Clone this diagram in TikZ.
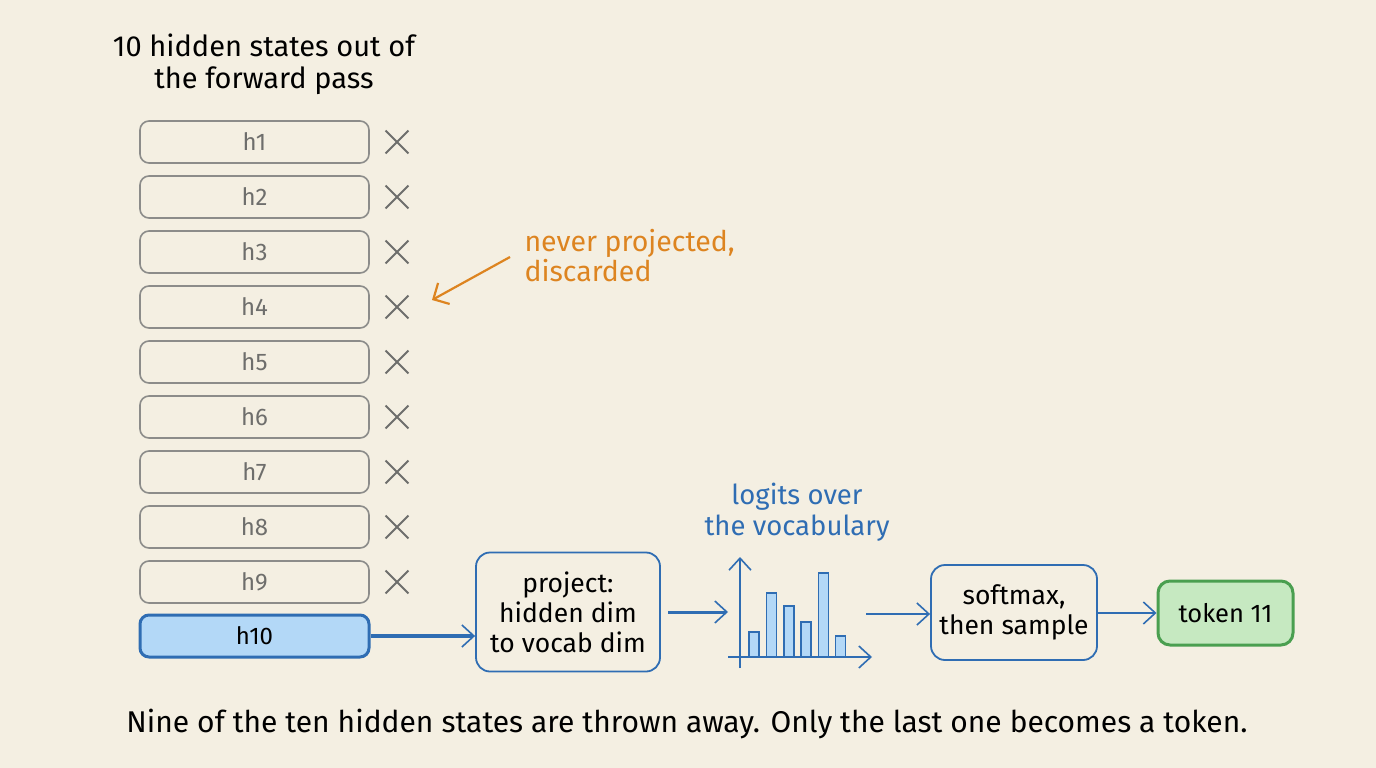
\documentclass[tikz,border=0pt]{standalone}
\usepackage{fontspec}
\setmainfont{Fira Sans}
\usetikzlibrary{shapes.misc,arrows.meta}

\definecolor{paper}{HTML}{F4EFE2}
\definecolor{boxgrey}{HTML}{8C8C8A}
\definecolor{labelgrey}{HTML}{6E6E6C}
\definecolor{hiblue}{HTML}{2F6DB3}
\definecolor{hifill}{HTML}{B3D8F7}
\definecolor{noteorange}{HTML}{DD8420}
\definecolor{tokgreen}{HTML}{4A9F50}
\definecolor{tokfill}{HTML}{C6E9C1}

\begin{document}
\begin{tikzpicture}[x=1pt,y=-1pt,
    hbox/.style={draw=boxgrey, line width=1.6pt, rounded corners=9pt,
        minimum width=229pt, minimum height=42pt, text=labelgrey,
        font=\fontsize{24}{26}\selectfont},
    xmark/.style={cross out, draw=labelgrey, line width=1.8pt,
        minimum size=21pt, inner sep=0pt},
    stepbox/.style={draw=hiblue, line width=1.8pt, rounded corners=14pt,
        align=center, font=\fontsize{26.5}{30}\selectfont},
    flow/.style={draw=hiblue, line width=1.6pt,
        -{Straight Barb[length=12pt,width=22pt,line width=1.6pt]}}]

\useasboundingbox [fill=paper] (0,0) rectangle (1376,768);

% Title
\node [align=center, font=\fontsize{29}{32}\selectfont] (title) at (264,64)
    {10 hidden states out of\\the forward pass};

% Hidden states h1 ... h9, thrown away
\foreach \i in {1,...,9} {
    \node [hbox] (h\i) at (254.5,{142+55*(\i-1)}) {h\i};
    \node [xmark] (x\i) at (397,{142+55*(\i-1)}) {};
}

% The last one is kept
\node [hbox, draw=hiblue, fill=hifill, line width=3pt, text=black] (h10)
    at (254.5,636) {h10};

% Note
\node [align=left, anchor=west, text=noteorange,
    font=\fontsize{28.5}{30}\selectfont] (note) at (521,256)
    {never projected,\\discarded};
\coordinate (notetip) at (432,300);
\draw [draw=noteorange, line width=2.2pt,
    -{Straight Barb[length=12pt,width=24pt,line width=2.2pt]}]
    (510,257) -- (notetip);

% Projection
\node [stepbox, minimum width=184pt, minimum height=119pt] (proj)
    at (568,612) {project:\\hidden dim\\to vocab dim};
\draw [flow, line width=3.5pt] (h10) -- (proj.west |- h10);

% Logits
\node [text=hiblue, align=center, font=\fontsize{27.5}{31}\selectfont]
    (logits) at (797,512) {logits over\\the vocabulary};
\coordinate (origin) at (740,657);
\draw [flow, line width=1.8pt] (740,668) -- (740,557) coordinate (ytop);
\draw [flow, line width=1.8pt] (728,657) -- (872,657) coordinate (xend);
\foreach \x/\h in {754/632, 771.5/593, 789/606, 806/622, 823.5/573, 840.5/636}
    \draw [draw=hiblue, fill=hifill, line width=1.4pt]
        (\x-5,657) rectangle (\x+5,\h);
\coordinate (chartin) at (728,612);
\coordinate (chartout) at (866,614);
\draw [flow, line width=3pt] (668,612) -- (chartin);

% Sampling
\node [stepbox, minimum width=166pt, minimum height=95pt] (soft)
    at (1014,612.5) {softmax,\\then sample};
\draw [flow] (chartout) -- (soft.west |- chartout);

% Output token
\node [draw=tokgreen, fill=tokfill, line width=3pt, rounded corners=12pt,
    minimum width=135pt, minimum height=64pt,
    font=\fontsize{25.5}{28}\selectfont] (tok) at (1225.5,613) {token 11};
\draw [flow] (soft.east |- tok) -- (tok);

% Caption
\node [font=\fontsize{30}{32}\selectfont] (caption) at (687,724)
    {Nine of the ten hidden states are thrown away. Only the last one becomes a token.};

\end{tikzpicture}
\end{document}
